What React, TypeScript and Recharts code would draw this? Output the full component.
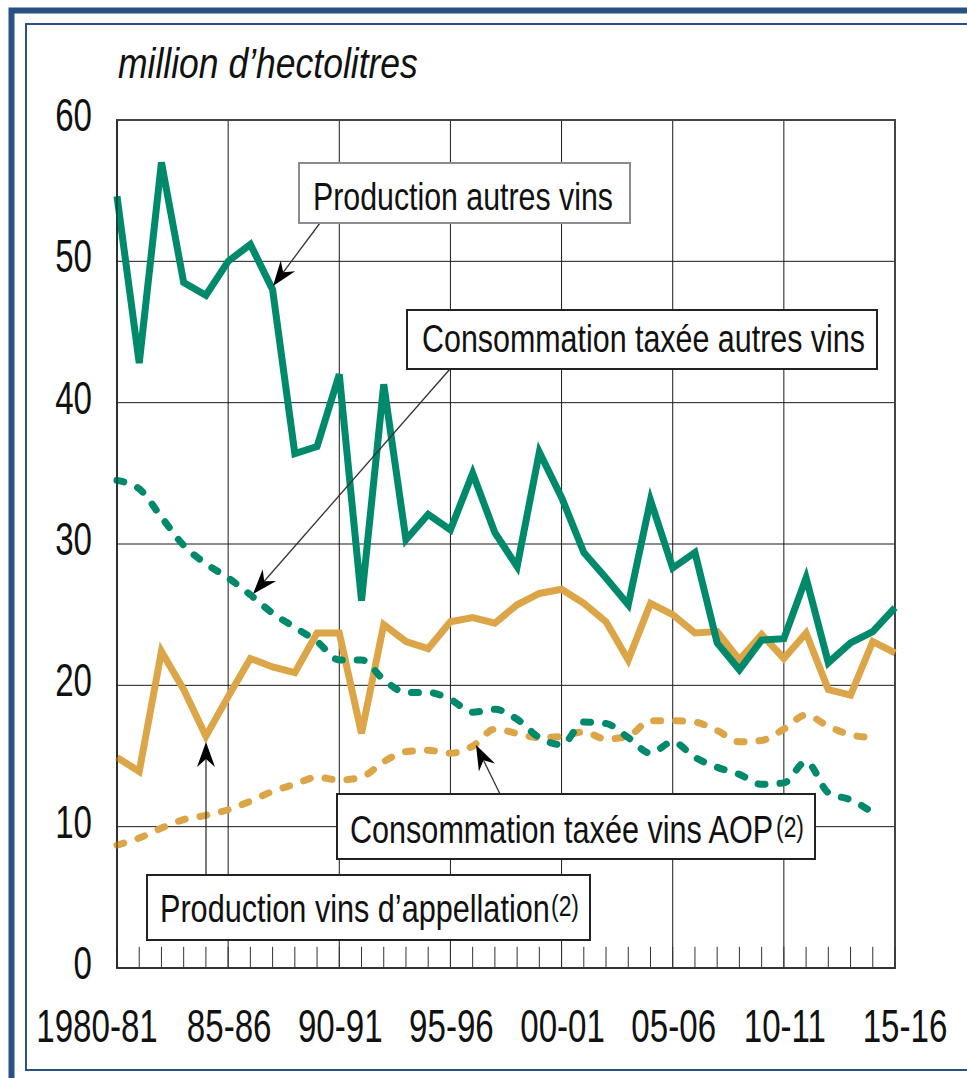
import React from 'react';
import { LineChart, Line, XAxis, YAxis, CartesianGrid, ReferenceLine, ReferenceArea } from 'recharts';

const YEARS = [
  '1980-81', '1981-82', '1982-83', '1983-84', '1984-85', '1985-86', '1986-87', '1987-88', '1988-89', '1989-90',
  '1990-91', '1991-92', '1992-93', '1993-94', '1994-95', '1995-96', '1996-97', '1997-98', '1998-99', '1999-00',
  '2000-01', '2001-02', '2002-03', '2003-04', '2004-05', '2005-06', '2006-07', '2007-08', '2008-09', '2009-10',
  '2010-11', '2011-12', '2012-13', '2013-14', '2014-15', '2015-16',
];
const LABEL_YEARS = ['1980-81', '1985-86', '1990-91', '1995-96', '2000-01', '2005-06', '2010-11', '2015-16'];
const LABEL_TEXT = ['1980-81', '85-86', '90-91', '95-96', '00-01', '05-06', '10-11', '15-16'];
const Y_TICKS = [0, 10, 20, 30, 40, 50, 60];

const PROD_AUTRES = [54.6, 42.8, 57.0, 48.5, 47.6, 50.0, 51.2, 48.0, 36.4, 36.9, 42.0, 26.0, 41.3, 30.3, 32.1, 31.0, 35.0, 30.8, 28.4, 36.5, 33.3, 29.4, 27.6, 25.7, 33.1, 28.3, 29.4, 23.0, 21.1, 23.2, 23.3, 27.6, 21.6, 23.0, 23.8, 25.5];
const PROD_APPELLATION = [14.9, 13.9, 22.4, 19.7, 16.4, 19.2, 21.9, 21.3, 20.9, 23.7, 23.7, 16.6, 24.3, 23.1, 22.6, 24.5, 24.8, 24.4, 25.7, 26.5, 26.8, 25.8, 24.5, 21.8, 25.8, 25.0, 23.7, 23.8, 21.8, 23.6, 21.9, 23.7, 19.7, 19.3, 23.1, 22.3];
const CONS_AUTRES = [34.5, 33.9, 31.9, 29.9, 28.6, 27.6, 26.4, 25.1, 24.1, 23.1, 21.8, 21.8, 20.4, 19.5, 19.5, 19.0, 18.1, 18.3, 17.6, 16.3, 15.8, 17.4, 17.3, 16.3, 15.2, 16.0, 14.9, 14.2, 13.7, 13.0, 13.1, 14.6, 12.4, 11.9, 11.0, null];
const CONS_AOP = [8.7, 9.2, 9.9, 10.5, 10.8, 11.2, 11.8, 12.5, 13.0, 13.5, 13.3, 13.5, 14.6, 15.3, 15.4, 15.2, 15.7, 16.9, 16.6, 16.3, 16.4, 16.7, 16.2, 16.4, 17.5, 17.5, 17.4, 16.8, 16.0, 16.1, 16.9, 17.9, 17.1, 16.5, 16.3, null];

const data = YEARS.map((year, i) => ({
  year,
  prodAutres: PROD_AUTRES[i],
  prodAppellation: PROD_APPELLATION[i],
  consAutres: CONS_AUTRES[i],
  consAop: CONS_AOP[i],
}));

const FONT = '"Liberation Sans", Arial, Helvetica, sans-serif';
const GREEN = '#00896B';
const GOLD = '#DBA548';
const FRAME = '#2A5186';

let ctx: CanvasRenderingContext2D | null = null;
const measure = (text: string, size: number, italic = false) => {
  if (typeof document === 'undefined') return text.length * size * 0.5;
  if (!ctx) ctx = document.createElement('canvas').getContext('2d');
  if (!ctx) return text.length * size * 0.5;
  ctx.font = `${italic ? 'italic ' : ''}${size}px "Liberation Sans", Arial, sans-serif`;
  return ctx.measureText(text).width;
};

const FitText = ({ x, y, text, size, width, italic = false }: any) => {
  const s = width / measure(text, size, italic);
  return (
    <g transform={`translate(${x},${y})`}>
      <text
        transform={`scale(${s.toFixed(4)},1)`}
        fontSize={size}
        fontStyle={italic ? 'italic' : 'normal'}
        fontFamily={FONT}
        fill="#111"
      >
        {text}
      </text>
    </g>
  );
};

const XTick = (props: any) => {
  const { x, y, payload } = props;
  const idx = LABEL_YEARS.indexOf(payload.value);
  if (idx < 0) return null;
  const shift = idx === 0 ? -20 : idx === LABEL_YEARS.length - 1 ? 10 : 1;
  return (
    <g transform={`translate(${x + shift},${y + 74})`}>
      <text transform="scale(0.72,1)" textAnchor="middle" fontSize={46} fontFamily={FONT} fill="#111">
        {LABEL_TEXT[idx]}
      </text>
    </g>
  );
};

const YTick = (props: any) => {
  const { x, y, payload } = props;
  return (
    <g transform={`translate(${x},${y + 11})`}>
      <text transform="scale(0.72,1)" textAnchor="end" fontSize={46} fontFamily={FONT} fill="#111">
        {payload.value}
      </text>
    </g>
  );
};

const Arrow = ({ x1, y1, x2, y2 }: { x1: number; y1: number; x2: number; y2: number }) => {
  const dx = x2 - x1;
  const dy = y2 - y1;
  const len = Math.hypot(dx, dy);
  const ux = dx / len;
  const uy = dy / len;
  const L = 25;
  const W = 9;
  const N = 17;
  const bx = x2 - ux * L;
  const by = y2 - uy * L;
  const nx = -uy;
  const ny = ux;
  const pts = [
    [x2, y2],
    [bx + nx * W, by + ny * W],
    [x2 - ux * N, y2 - uy * N],
    [bx - nx * W, by - ny * W],
  ]
    .map((p) => p.join(','))
    .join(' ');
  return (
    <g>
      <line x1={x1} y1={y1} x2={x2 - ux * N} y2={y2 - uy * N} stroke="#333" strokeWidth={1.3} />
      <polygon points={pts} fill="#000" />
    </g>
  );
};

const Label = ({ x, y, w, h, tx, ty, text, len, sup, supLen, stroke }: any) => (
  <g>
    <rect x={x} y={y} width={w} height={h} fill="#fff" stroke={stroke} strokeWidth={2} />
    <FitText x={tx} y={ty} text={text} size={39} width={len} />
    {sup ? <FitText x={tx + len + 1} y={ty - 6} text={sup} size={30} width={supLen} /> : null}
  </g>
);

export default function App() {
  return (
    <div style={{ position: 'absolute', left: 0, top: 0, width: 967, height: 1078, background: '#fff' }}>
      <LineChart
        width={967}
        height={1078}
        data={data}
        margin={{ top: 120, right: 72, bottom: 50, left: 57 }}
      >
        <CartesianGrid stroke="#1a1a1a" strokeWidth={1} />
        <XAxis
          dataKey="year"
          ticks={LABEL_YEARS}
          interval={0}
          height={60}
          tickLine={false}
          tickSize={0}
          tickMargin={0}
          axisLine={{ stroke: '#333', strokeWidth: 2 }}
          tick={<XTick />}
        />
        <YAxis
          domain={[0, 60]}
          ticks={Y_TICKS}
          width={60}
          tickLine={false}
          tickSize={0}
          tickMargin={25}
          axisLine={{ stroke: '#1a1a1a', strokeWidth: 1 }}
          tick={<YTick />}
        />
        {YEARS.map((yr) => (
          <ReferenceLine
            key={yr}
            segment={[{ x: yr, y: 0 }, { x: yr, y: 1.5 }]}
            stroke="#333"
            strokeWidth={1}
          />
        ))}
        <ReferenceArea
          x1={YEARS[0]}
          x2={YEARS[YEARS.length - 1]}
          y1={0}
          y2={60}
          fill="none"
          fillOpacity={0}
          stroke="#444"
          strokeWidth={2}
          ifOverflow="visible"
        />
        <Line
          dataKey="consAop"
          type="monotone"
          stroke={GOLD}
          strokeWidth={7}
          strokeDasharray="7 15"
          strokeLinecap="round"
          dot={false}
          isAnimationActive={false}
        />
        <Line
          dataKey="prodAppellation"
          type="linear"
          stroke={GOLD}
          strokeWidth={7}
          dot={false}
          isAnimationActive={false}
        />
        <Line
          dataKey="consAutres"
          type="monotone"
          stroke={GREEN}
          strokeWidth={7}
          strokeDasharray="7 15"
          strokeLinecap="round"
          dot={false}
          isAnimationActive={false}
        />
        <Line
          dataKey="prodAutres"
          type="linear"
          stroke={GREEN}
          strokeWidth={7}
          dot={false}
          isAnimationActive={false}
        />
      </LineChart>
      <svg
        width={967}
        height={1078}
        style={{ position: 'absolute', left: 0, top: 0, pointerEvents: 'none' }}
      >
        <rect x={11.5} y={10.5} width={1000} height={1100} fill="none" stroke={FRAME} strokeWidth={6} />
        <rect x={26} y={24} width={1000} height={1046} fill="none" stroke={FRAME} strokeWidth={2} />
        <FitText x={118} y={78} text="million d’hectolitres" size={42} width={300} italic />
        <Arrow x1={320} y1={223} x2={273} y2={286} />
        <Arrow x1={450} y1={369} x2={253} y2={594} />
        <Arrow x1={500} y1={794} x2={476} y2={745} />
        <Arrow x1={206} y1={875} x2={206} y2={742} />
        <Label x={299} y={163} w={331} h={60} tx={313} ty={210} text="Production autres vins" len={300} stroke="#8c8c8c" />
        <Label x={407} y={310} w={470} h={59} tx={422} ty={352} text="Consommation taxée autres vins" len={443} stroke="#222" />
        <Label x={337} y={794} w={478} h={65} tx={350} ty={843} text="Consommation taxée vins AOP" len={425} sup="(2)" supLen={28} stroke="#222" />
        <Label x={147} y={875} w={443} h={65} tx={160} ty={922} text="Production vins d’appellation" len={390} sup="(2)" supLen={28} stroke="#222" />
      </svg>
    </div>
  );
}
